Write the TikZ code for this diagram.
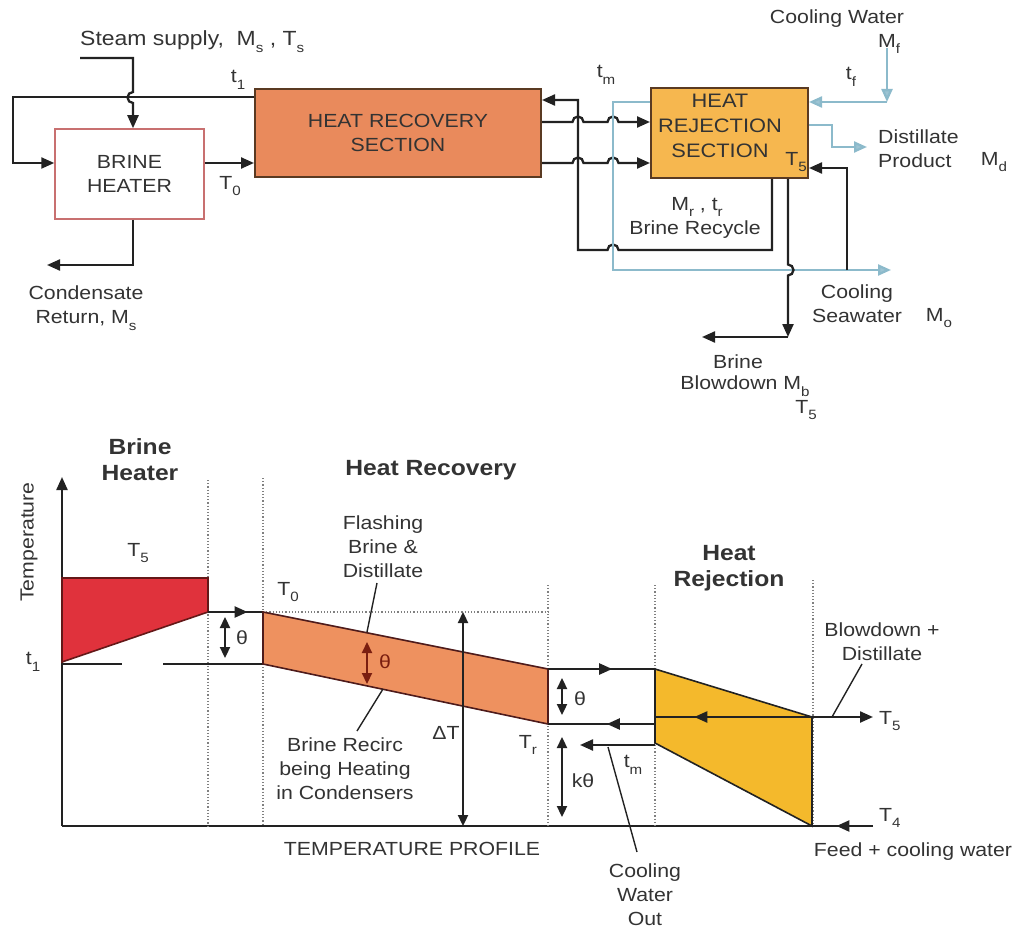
\documentclass[tikz,border=0pt]{standalone}
\usepackage{fontspec}
\setmainfont{Liberation Sans}[FakeStretch=1.12]
\usetikzlibrary{arrows.meta,decorations.markings}
\definecolor{txt}{HTML}{333333}
\definecolor{ln}{HTML}{222222}
\definecolor{pipeblue}{HTML}{8CBACB}
\definecolor{hrfill}{HTML}{E98A5C}
\definecolor{hjfill}{HTML}{F6B74F}
\definecolor{redfill}{HTML}{E0323C}
\definecolor{orfill}{HTML}{EE915F}
\definecolor{yefill}{HTML}{F4B92C}
\definecolor{boxedge}{HTML}{5A3A22}
\definecolor{bhedge}{HTML}{C87070}
\definecolor{darkred}{HTML}{7A1E10}
\newcommand\sbs[1]{\raisebox{-0.35em}{\fontsize{13.5}{13.5}\selectfont #1}}
\begin{document}
\begin{tikzpicture}[x=1pt,y=-1pt,
  every node/.style={font=\fontsize{19}{24}\selectfont, text=txt, inner sep=0pt, align=center},
  bold/.style={font=\fontsize{22}{26}\selectfont\bfseries},
  pipe/.style={draw=ln, line width=2.3pt},
  bpipe/.style={draw=pipeblue, line width=2.3pt},
  arr/.style={-{Triangle[length=13pt,width=11pt]}},
  barr/.style={-{Triangle[length=13pt,width=11pt,fill=pipeblue!85]}},
  dbl/.style={{Triangle[length=11pt,width=10pt]}-{Triangle[length=11pt,width=10pt]}},
  midarr/.style={postaction={decorate},decoration={markings,mark=at position #1 with {\arrow{Triangle[length=13pt,width=11pt]}}}},
  dots/.style={draw=gray, line width=1.2pt, dotted},
  lead/.style={draw=ln, line width=1.4pt}
]
\useasboundingbox (0,0) rectangle (1018,931);

% ================= TOP: FLOW DIAGRAM =================
\node[draw=bhedge, line width=1.5pt, fill=white, minimum width=149pt, minimum height=90pt] (bh) at (129.5,174) {BRINE\\HEATER};
\node[draw=boxedge, line width=2pt, fill=hrfill, minimum width=286pt, minimum height=88pt] (hr) at (398,133) {};
\node (hrt) at (398,133) {HEAT RECOVERY\\SECTION};
\node[draw=boxedge, line width=2pt, fill=hjfill, minimum width=157pt, minimum height=90pt] (hj) at (729.5,133) {};
\node[font=\fontsize{19.5}{25}\selectfont] (hjt) at (720,126) {HEAT\\REJECTION\\SECTION};
\node (hjT) at (796,162) {T\sbs{5}};

% steam supply
\coordinate (st0) at (80,58);
\draw[pipe,arr] (st0) -- (133,58) -- (133,92) arc[start angle=90,end angle=270,radius=5.5pt] -- (133,0 |- bh.north);
\node[anchor=west, font=\fontsize{20.5}{24}\selectfont] (stl) at (80,42) {Steam supply,\ \ M\sbs{s}\ , T\sbs{s}};
% t1 loop
\draw[pipe,arr] (hr.west |- 0,97) -- (13,97) -- (13,163) -- (bh.west |- 0,163);
\node (t1) at (238,80) {t\sbs{1}};
% T0
\draw[pipe,arr] (bh.east |- 0,163) -- (hr.west |- 0,163);
\node (T0) at (230,186) {T\sbs{0}};
% condensate
\coordinate (cd) at (47,265);
\draw[pipe,arr] (133,0 |- bh.south) -- (133,265) -- (cd);
\node (cdl) at (86,308) {Condensate\\Return, M\sbs{s}};

% HR -> HJ lines with hops
\draw[pipe,arr] (hr.east |- 0,122) -- (572.5,122) arc[start angle=180,end angle=0,radius=5.5pt] -- (607.5,122) arc[start angle=180,end angle=0,radius=5.5pt] -- (hj.west |- 0,122);
\draw[pipe,arr] (hr.east |- 0,163) -- (572.5,163) arc[start angle=180,end angle=0,radius=5.5pt] -- (607.5,163) arc[start angle=180,end angle=0,radius=5.5pt] -- (hj.west |- 0,163);
% brine recycle return
\draw[pipe,arr] (772,0 |- hj.south) -- (772,250) -- (618.5,250) arc[start angle=0,end angle=180,radius=5.5pt] -- (578,250) -- (578,100) -- (hr.east |- 0,100);
\node (tm) at (606,75) {t\sbs{m}};
\node (mr) at (697,207) {M\sbs{r} , t\sbs{r}};
\node (brl) at (695,230) {Brine Recycle};

% blue cooling seawater loop
\coordinate (cso) at (891,270);
\draw[bpipe,barr] (hj.west |- 0,102) -- (613,102) -- (613,270) -- (cso);
\node (cs) at (857,304) {Cooling\\Seawater};
\node (mo) at (939,318) {M\sbs{o}};

% blowdown
\coordinate (bd) at (702,337);
\draw[pipe,arr] (788,0 |- hj.south) -- (788,264.5) arc[start angle=90,end angle=-90,radius=5.5pt] -- (788,337);
\draw[pipe,arr] (788,337) -- (bd);
\node (bdl) at (738,362) {Brine};
\node (bdl2) at (745,386) {Blowdown M\sbs{b}};
\node (bdT) at (806,410) {T\sbs{5}};

% brine feed to HJ (T5 inlet)
\draw[pipe,arr] (847,270) -- (847,168) -- (hj.east |- 0,168);

% cooling water in
\coordinate (cw) at (887,48);
\draw[bpipe,barr] (cw) -- (887,102);
\draw[bpipe,barr] (887,102) -- (hj.east |- 0,102);
\node (cwl) at (837,19) {Cooling Water};
\node (mf) at (889,44) {M\sbs{f}};
\node (tf) at (851,77) {t\sbs{f}};

% distillate product
\coordinate (dp) at (867,147);
\draw[bpipe,barr] (hj.east |- 0,125) -- (832,125) -- (832,147) -- (dp);
\node[anchor=west] (dpl) at (878,137) {Distillate};
\node[anchor=west] (dpl2) at (878,161) {Product};
\node (md) at (994,162) {M\sbs{d}};

% ================= BOTTOM: TEMPERATURE PROFILE =================
\coordinate (O) at (62,826);
\coordinate (Ytop) at (62,477);
\coordinate (Xend) at (812,826);
\draw[pipe,arr] (O) -- (Ytop);
\draw[pipe] (O) -- (Xend);
\node[rotate=90] (templ) at (29,542) {Temperature};

% dotted section dividers
\draw[dots] (208,480) -- (208,826);
\draw[dots] (263,478) -- (263,826);
\draw[dots] (548,585) -- (548,826);
\draw[dots] (655,585) -- (655,826);
\draw[dots] (813,580) -- (813,826);
\draw[dots] (263,612) -- (548,612);

% section titles
\node[bold] (s1) at (140,460) {Brine\\Heater};
\node[bold] (s2) at (431,470) {Heat Recovery};
\node[bold] (s3) at (729,568) {Heat\\Rejection};

% brine heater (red)
\draw[fill=redfill, draw=ln!70!red, line width=1.6pt] (62,578) -- (208,578) -- (208,612) -- (62,662) -- cycle;
\node (bT5) at (138,553) {T\sbs{5}};
\node (bt1) at (33,662) {t\sbs{1}};
\draw[pipe, midarr=0.72] (208,612) -- (263,612);
\draw[pipe] (62,664) -- (122,664);
\draw[pipe] (163,664) -- (263,664);
\draw[pipe,dbl] (225,617) -- (225,658);
\node (th1) at (242,638) {θ};

% heat recovery (orange)
\draw[fill=orfill, draw=ln!80!red, line width=1.6pt] (263,612) -- (548,669) -- (548,724) -- (263,664) -- cycle;
\node (bT0) at (288,592) {T\sbs{0}};
\draw[draw=darkred, line width=2.2pt, dbl] (367,642) -- (367,684);
\node[text=darkred] (th2) at (385,662) {θ};
\node (flash) at (383,547) {Flashing\\Brine \&\\Distillate};
\draw[lead] (377,583) -- (367,632);
\node (recirc) at (345,769) {Brine Recirc\\being Heating\\in Condensers};
\draw[lead] (357,731) -- (383,689);
\draw[pipe,dbl] (463,612) -- (463,826);
\node (dT) at (446,733) {ΔT};
\node (Tr) at (528,745) {T\sbs{r}};

% heat rejection (yellow)
\draw[fill=yefill, draw=ln, line width=1.6pt] (655,669) -- (812,717) -- (812,826) -- (655,743) -- cycle;
\draw[pipe, midarr=0.6] (548,669) -- (655,669);
\draw[pipe, midarr=0.45] (655,724) -- (548,724);
\draw[pipe, midarr=0.75] (812,717) -- (655,717);
\coordinate (T5e) at (873,717);
\draw[pipe,arr] (812,717) -- (T5e);
\node[anchor=west] (rT5) at (879,721) {T\sbs{5}};
\draw[pipe,dbl] (562,678) -- (562,715);
\node (th3) at (580,699) {θ};
\draw[pipe,dbl] (562,737) -- (562,817);
\node (kth) at (583,781) {kθ};
\coordinate (cwo) at (580,745);
\draw[pipe,arr] (655,745) -- (cwo);
\node (tm2) at (633,765) {t\sbs{m}};
\node (cwol) at (645,895) {Cooling\\Water\\Out};
\draw[lead] (637,852) -- (608,747);
\node (bdd) at (882,642) {Blowdown +\\Distillate};
\draw[lead] (862,664) -- (832,717);
\coordinate (T4s) at (873,826);
\draw[pipe, midarr=0.6] (T4s) -- (Xend);
\node[anchor=west] (T4) at (879,818) {T\sbs{4}};
\node (feed) at (913,852) {Feed + cooling water};
\node (tp) at (412,849) {TEMPERATURE PROFILE};
\end{tikzpicture}
\end{document}
